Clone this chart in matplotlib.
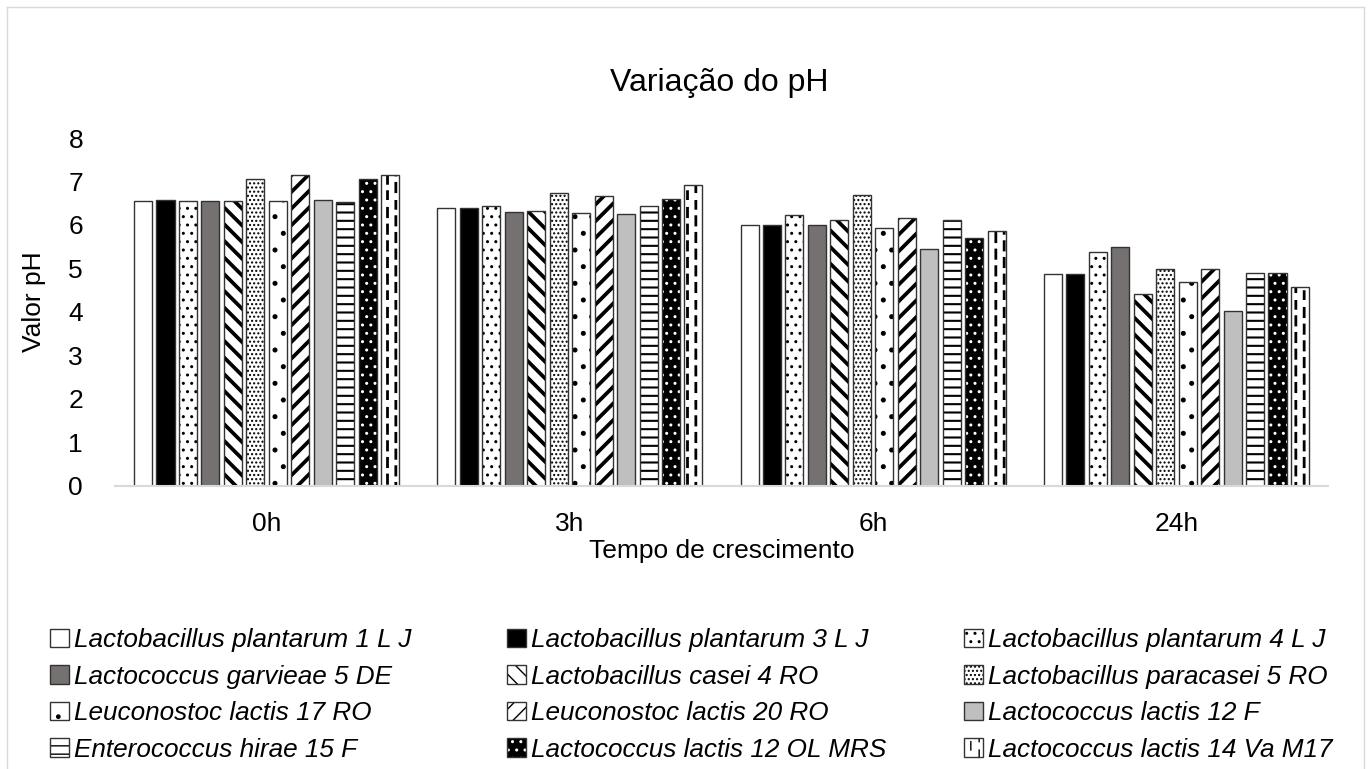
import warnings

import matplotlib
matplotlib.use("Agg")
import matplotlib.pyplot as plt
import numpy as np
from matplotlib import hatch as mhatch
from matplotlib.legend_handler import HandlerTuple
from matplotlib.lines import Line2D
from matplotlib.patches import Patch
from matplotlib.path import Path

warnings.filterwarnings("ignore")

plt.rcParams["font.family"] = ["Liberation Sans", "DejaVu Sans"]

times = ["0h", "3h", "6h", "24h"]
strains = [
    "Lactobacillus plantarum 1 L J",
    "Lactobacillus plantarum 3 L J",
    "Lactobacillus plantarum 4 L J",
    "Lactococcus garvieae 5 DE",
    "Lactobacillus casei 4 RO",
    "Lactobacillus paracasei 5 RO",
    "Leuconostoc lactis 17 RO",
    "Leuconostoc lactis 20 RO",
    "Lactococcus lactis 12 F",
    "Enterococcus hirae 15 F",
    "Lactococcus lactis 12 OL MRS",
    "Lactococcus lactis 14 Va M17",
]
ph_0h = [6.56, 6.57, 6.56, 6.54, 6.54, 7.06, 6.54, 7.15, 6.57, 6.53, 7.06, 7.15]
ph_3h = [6.40, 6.39, 6.44, 6.29, 6.32, 6.73, 6.28, 6.67, 6.25, 6.44, 6.59, 6.92]
ph_6h = [6.00, 5.99, 6.23, 6.00, 6.12, 6.69, 5.93, 6.16, 5.44, 6.12, 5.70, 5.86]
ph_24h = [4.88, 4.86, 5.38, 5.50, 4.42, 4.98, 4.68, 4.98, 4.02, 4.90, 4.90, 4.57]

# face colour, hatch, hatch colour, hatch line width
STYLES = [
    ("white", None, "white", 1.0),
    ("black", None, "black", 1.0),
    ("white", "..", "black", 1.0),
    ("#767171", None, "#767171", 1.0),
    ("white", "\\\\", "black", 2.7),
    ("white", "....", "black", 1.0),
    ("white", ".", "black", 1.2),
    ("white", "//", "black", 2.7),
    ("#bfbfbf", None, "#bfbfbf", 1.0),
    ("white", "--", "black", 1.5),
    ("black", "..", "white", 1.0),
    ("white", "::", "black", 2.0),
]
EDGE = "#333333"


class DashedVerticalHatch(mhatch.HatchPatternBase):
    """':' in a hatch string -> staggered columns of short vertical dashes."""

    def __init__(self, hatch, density):
        self.num_cols = hatch.count(":") * density
        self.num_rows = self.num_cols // 2
        self.num_vertices = 2 * self.num_cols * self.num_rows

    def set_vertices_and_codes(self, vertices, codes):
        dx = 1.0 / self.num_cols
        dy = 1.0 / self.num_rows
        i = 0
        for c in range(self.num_cols):
            xc = (c + 0.5) * dx
            shift = 0.5 * dy if c % 2 else 0.0
            for r in range(self.num_rows):
                y0 = r * dy + shift
                vertices[i] = (xc, y0)
                vertices[i + 1] = (xc, y0 + 0.5 * dy)
                codes[i] = Path.MOVETO
                codes[i + 1] = Path.LINETO
                i += 2


mhatch._hatch_types.append(DashedVerticalHatch)

W, H = 1371, 769
fig = plt.figure(figsize=(W / 100, H / 100), dpi=100)
ax = fig.add_axes([115 / W, 1 - 485.5 / H, 1213 / W, 347.5 / H])

values = np.array([ph_0h, ph_3h, ph_6h, ph_24h])
x = np.arange(len(times))
n = len(strains)
pitch = 0.0741
width = 0.0594

handles = []
for i, (face, hatch, hcolor, hlw) in enumerate(STYLES):
    xs = x + (i - (n - 1) / 2) * pitch
    with plt.rc_context({"hatch.linewidth": hlw}):
        bars = ax.bar(xs, values[:, i], width, color=face, hatch=hatch,
                      edgecolor=hcolor, linewidth=0)
        fill = Patch(facecolor=face, hatch=hatch, edgecolor=hcolor, linewidth=0)
        if hasattr(fill, "set_hatch_linewidth"):
            fill.set_hatch_linewidth(hlw)
            for b in bars:
                b.set_hatch_linewidth(hlw)
    ax.bar(xs, values[:, i], width, fill=False, edgecolor=EDGE, linewidth=1.0)
    handles.append((fill, Patch(fill=False, edgecolor=EDGE, linewidth=1.0)))

ax.set_xlim(-0.5, len(times) - 0.5)
ax.set_ylim(0, 8)
ax.set_yticks(range(0, 9))
ax.set_xticks(x)
ax.set_xticklabels(times)
for side in ("left", "right", "top"):
    ax.spines[side].set_visible(False)
ax.spines["bottom"].set_color("#d9d9d9")
ax.spines["bottom"].set_linewidth(1.5)
ax.tick_params(axis="y", length=0, pad=23, labelsize=19)
ax.tick_params(axis="x", length=0, pad=19, labelsize=19)

ax.set_xlabel("Tempo de crescimento", fontsize=19)
ax.xaxis.set_label_coords(0.5, -0.155)
ax.set_ylabel("Valor pH", fontsize=19)
ax.yaxis.set_label_coords(-0.057, 0.528)

fig.text(719 / W, 1 - 91 / H, "Variação do pH", fontsize=23,
         ha="center", va="baseline")

# three legend columns, filled row by row
legend_x = [50 / W, 507 / W, 964 / W]
for c, xpos in enumerate(legend_x):
    fig.legend(handles[c::3], strains[c::3], loc="upper left",
               bbox_to_anchor=(xpos, 1 - 628 / H), frameon=False,
               borderpad=0, borderaxespad=0, handlelength=0.72,
               handleheight=0.72, handletextpad=0.2, labelspacing=0.48,
               prop={"family": "Liberation Sans", "style": "italic", "size": 18.8},
               handler_map={tuple: HandlerTuple(ndivide=1)})

# chart area border
for xs_, ys_ in [([7, 7], [H, 7]), ([7, W - 7], [7, 7]), ([W - 7, W - 7], [7, H])]:
    fig.add_artist(Line2D([v / W for v in xs_], [1 - v / H for v in ys_],
                          color="#d9d9d9", linewidth=1.0))

fig.savefig("out.png", dpi=100)
